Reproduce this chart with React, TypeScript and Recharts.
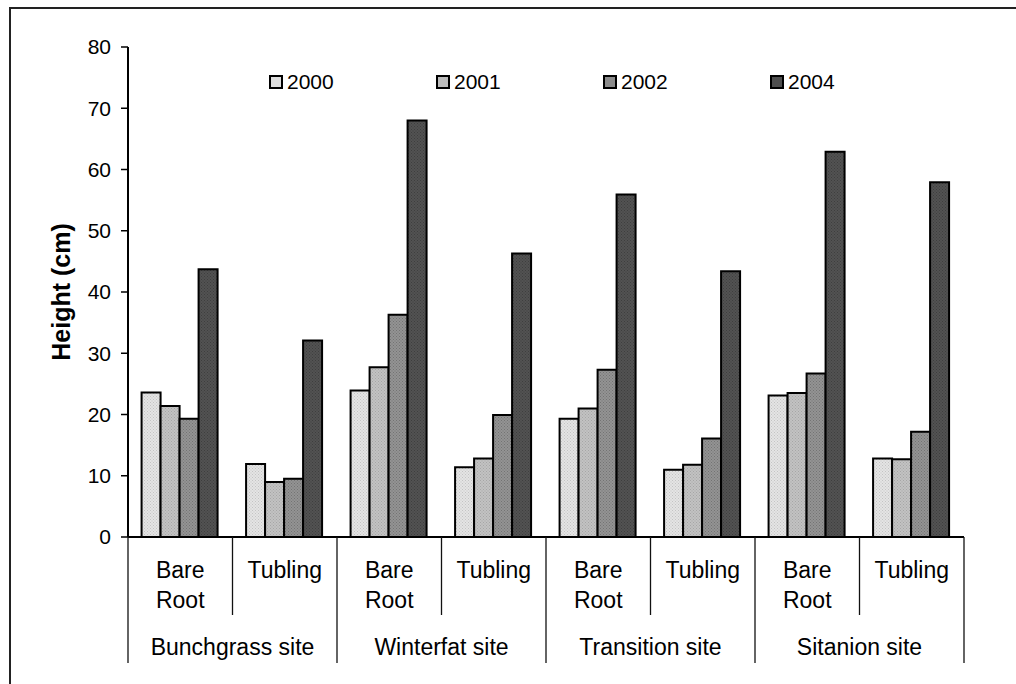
import React from "react";
import { BarChart, Bar, XAxis, YAxis } from "recharts";

const sites = ["Bunchgrass site", "Winterfat site", "Transition site", "Sitanion site"];
const stockTypes = ["Bare Root", "Tubling"];
const years = ["2000", "2001", "2002", "2004"];

const h2000 = [23.6, 11.9, 23.9, 11.4, 19.3, 11.0, 23.1, 12.8];
const h2001 = [21.4, 9.0, 27.7, 12.8, 21.0, 11.8, 23.5, 12.7];
const h2002 = [19.3, 9.5, 36.3, 19.9, 27.3, 16.1, 26.7, 17.2];
const h2004 = [43.7, 32.1, 68.0, 46.3, 55.9, 43.4, 62.9, 57.9];

const yTicks = [0, 10, 20, 30, 40, 50, 60, 70, 80];

const seriesValues = [h2000, h2001, h2002, h2004];
const seriesFill = ["url(#p2000)", "url(#p2001)", "url(#p2002)", "url(#p2004)"];
const legendFill = ["#dedede", "#bdbdbd", "#8c8c8c", "#4e4e4e"];

const data = sites.flatMap((site, si) =>
  stockTypes.map((sub, ti) => {
    const i = si * stockTypes.length + ti;
    const row: any = { key: site + "|" + sub, site, sub, first: ti === 0 };
    years.forEach((yr, k) => {
      row["y" + yr] = seriesValues[k][i];
    });
    return row;
  })
);

const W = 1016;
const H = 684;
const M = { top: 47, right: 52, left: 0, bottom: 21 };
const Y_W = 128;
const X_H = 126;
const HALF_BAND = (W - M.left - M.right - Y_W) / data.length / 2;
const FONT = '"Liberation Sans", Arial, Helvetica, sans-serif';

function CatTick(props: any) {
  const { x, y, index, payload } = props;
  const half = payload && payload.offset ? payload.offset : HALF_BAND;
  const row = data[index];
  if (!row) return null;
  const words = row.sub.split(" ");
  const isLast = index === data.length - 1;
  return (
    <g>
      {words.map((w: string, i: number) => (
        <text
          key={i}
          x={x}
          y={y + 33 + i * 30}
          textAnchor="middle"
          dominantBaseline="central"
          fontSize={23}
          fontFamily={FONT}
          fill="#000"
        >
          {w}
        </text>
      ))}
      <line
        x1={x - half}
        x2={x - half}
        y1={y}
        y2={row.first ? y + 126 : y + 78}
        stroke="#111"
        strokeWidth={1.3}
      />
      {isLast && (
        <line x1={x + half} x2={x + half} y1={y} y2={y + 126} stroke="#111" strokeWidth={1.3} />
      )}
      {row.first && (
        <text
          x={x + half}
          y={y + 110}
          textAnchor="middle"
          dominantBaseline="central"
          fontSize={23}
          fontFamily={FONT}
          fill="#000"
        >
          {row.site}
        </text>
      )}
    </g>
  );
}

function YLabel(props: any) {
  const vb = props.viewBox || { x: 0, y: 0, width: 0, height: 0 };
  const cx = vb.x + 61;
  const cy = vb.y + vb.height / 2;
  return (
    <text
      x={cx}
      y={cy}
      transform={`rotate(-90 ${cx} ${cy})`}
      textAnchor="middle"
      dominantBaseline="central"
      fontSize={25}
      fontWeight="bold"
      fontFamily={FONT}
      fill="#000"
    >
      Height (cm)
    </text>
  );
}

function Dots({ id, base, dot }: { id: string; base: string; dot: string }) {
  return (
    <pattern id={id} width={3} height={3} patternUnits="userSpaceOnUse">
      <rect width={3} height={3} fill={base} />
      <rect x={0} y={0} width={1} height={1} fill={dot} />
      <rect x={1.5} y={1.5} width={1} height={1} fill={dot} />
    </pattern>
  );
}

export default function App() {
  return (
    <div style={{ position: "absolute", left: 0, top: 0, width: W, height: H, background: "#fff", fontFamily: FONT }}>
      <div
        style={{
          position: "absolute",
          left: 9,
          top: 7,
          width: W,
          height: H,
          borderLeft: "2px solid #222",
          borderTop: "2px solid #222",
          boxSizing: "border-box",
        }}
      />
      <div style={{ position: "absolute", left: 0, top: 0 }}>
        <BarChart width={W} height={H} data={data} margin={M} barGap={0} barCategoryGap="13%">
          <defs>
            <Dots id="p2000" base="#e4e4e4" dot="#c4c4c4" />
            <Dots id="p2001" base="#c2c2c2" dot="#a6a6a6" />
            <Dots id="p2002" base="#939393" dot="#737373" />
            <Dots id="p2004" base="#525252" dot="#3e3e3e" />
          </defs>
          <XAxis
            dataKey="key"
            height={X_H}
            interval={0}
            tickSize={0}
            tickMargin={0}
            tickLine={false}
            axisLine={{ stroke: "#000", strokeWidth: 2 }}
            tick={<CatTick />}
          />
          <XAxis
            xAxisId="top"
            dataKey="key"
            orientation="top"
            height={0}
            tick={false}
            tickLine={false}
            axisLine={{ stroke: "#333", strokeWidth: 2 }}
          />
          <YAxis
            width={Y_W}
            domain={[0, 80]}
            ticks={yTicks}
            interval={0}
            tickSize={7}
            tickMargin={10}
            tickLine={{ stroke: "#000", strokeWidth: 1.5 }}
            axisLine={{ stroke: "#000", strokeWidth: 2 }}
            tick={{ fontSize: 21, fill: "#000", fontFamily: FONT }}
            label={<YLabel />}
          />
          <YAxis
            yAxisId="right"
            orientation="right"
            width={0}
            domain={[0, 80]}
            tick={false}
            tickLine={false}
            axisLine={{ stroke: "#333", strokeWidth: 2 }}
          />
          {years.map((yr, k) => (
            <Bar
              key={yr}
              dataKey={"y" + yr}
              name={yr}
              fill={seriesFill[k]}
              stroke="#000"
              strokeWidth={2}
              isAnimationActive={false}
            />
          ))}
        </BarChart>
      </div>
      <div style={{ position: "absolute", left: 269, top: 70, display: "flex" }}>
        {years.map((yr, k) => (
          <div key={yr} style={{ width: 167, display: "flex", alignItems: "center", height: 24 }}>
            <span
              style={{
                display: "inline-block",
                width: 10,
                height: 10,
                border: "2px solid #000",
                background: legendFill[k],
                marginRight: 4,
              }}
            />
            <span style={{ fontSize: 21, color: "#000", lineHeight: "24px" }}>{yr}</span>
          </div>
        ))}
      </div>
    </div>
  );
}
